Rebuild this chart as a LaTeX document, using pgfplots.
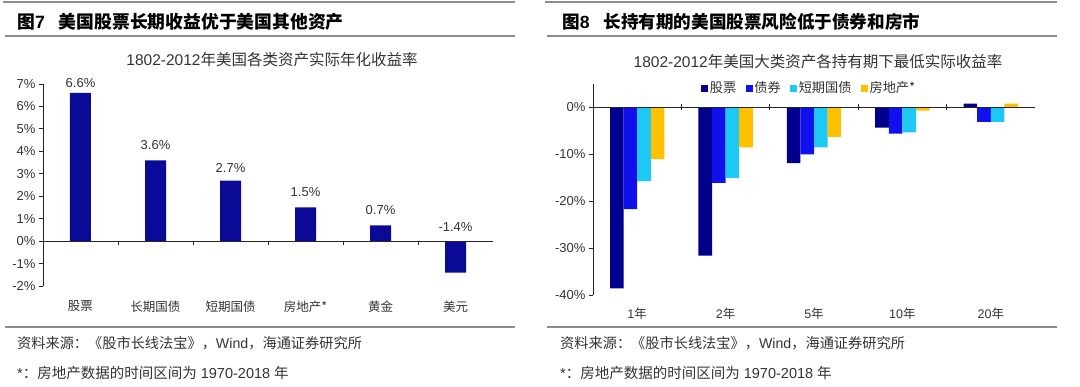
\documentclass[border=0pt]{standalone}
\usepackage{fontspec}
\setmainfont{Liberation Sans}
\newfontfamily\cjk{Noto Sans CJK SC}
\usepackage{pgfplots}
\pgfplotsset{compat=1.18}
\definecolor{navy}{HTML}{0A0A96}
\definecolor{stock}{HTML}{00008C}
\definecolor{bond}{HTML}{1010EB}
\definecolor{bill}{HTML}{1EC8F5}
\definecolor{house}{HTML}{FFC000}
\definecolor{rulec}{HTML}{8C8C8C}
\definecolor{txt}{HTML}{333333}

\pgfplotsset{
  common/.style={
    scale only axis,
    axis lines*=left,
    x axis line style={draw=none},
    axis line style={black!85, line width=0.9pt},
    xtick style={draw=none},
    ytick style={black!85, line width=0.9pt},
    tick align=outside,
    major tick length=4pt,
    ytick pos=left,
    /pgf/number format/assume math mode=true,
    yticklabel={\pgfmathprintnumber{\tick}\%},
    y tick label style={font=\fontsize{13}{15}\selectfont, text=txt},
    x tick label style={font=\cjk\fontsize{12.5}{14}\selectfont, text=txt},
    clip=false,
  }
}

\begin{document}
\begin{tikzpicture}
\useasboundingbox (0pt,0pt) rectangle (1080pt,386pt);
% rules
\foreach \xo in {0,542}{
  \draw[rulec, line width=1.2pt] (3pt+\xo pt,384pt) -- (515pt+\xo pt,384pt);
  \draw[rulec, line width=1.2pt] (5pt+\xo pt,350pt) -- (515pt+\xo pt,350pt);
  \draw[rulec, line width=1.2pt] (5pt+\xo pt,59pt) -- (515pt+\xo pt,59pt);
}
% panel titles
\node[anchor=west, inner sep=0pt] at (17pt,364pt) {{\cjk\bfseries\fontsize{17.8}{20}\selectfont 图}{\bfseries\fontsize{17.8}{20}\selectfont 7}\hspace{14pt}{\cjk\bfseries\fontsize{17.8}{20}\selectfont 美国股票长期收益优于美国其他资产}};
\node[anchor=west, inner sep=0pt] at (562pt,364pt) {{\cjk\bfseries\fontsize{17.6}{20}\selectfont 图}{\bfseries\fontsize{17.6}{20}\selectfont 8}\hspace{14pt}{\cjk\bfseries\fontsize{17.6}{20}\selectfont 长持有期的美国股票风险低于债券和房市}};
% chart titles
\node[text=txt, font=\fontsize{15.5}{18}\selectfont] at (272pt,326pt) {1802-2012{\cjk 年美国各类资产实际年化收益率}};
\node[text=txt, font=\fontsize{15.5}{18}\selectfont] at (818pt,324pt) {1802-2012{\cjk 年美国大类资产各持有期下最低实际收益率}};
% sources
\foreach \xo in {17,560}{
  \node[anchor=west, inner sep=0pt, text=txt, font=\fontsize{14.2}{16}\selectfont] at (\xo pt,43pt) {{\cjk 资料来源：《股市长线法宝》，}Wind{\cjk ，海通证券研究所}};
  \node[anchor=west, inner sep=0pt, text=txt, font=\fontsize{14.5}{16}\selectfont] at (\xo pt,13pt) {*{\cjk ：房地产数据的时间区间为} 1970-2018 {\cjk 年}};
}

% left chart
\begin{axis}[common,
  at={(43pt,100pt)}, anchor=south west, width=450pt, height=202pt,
  xmin=-0.5, xmax=5.5, ymin=-2, ymax=7,
  xtick={0,...,5},
  xticklabels={股票,长期国债,短期国债,房地产*,黄金,美元},
  x tick label style={yshift=-7pt},
  ytick={-2,-1,...,7},
]
\addplot[ybar, bar width=21pt, fill=navy, draw=none] coordinates {(0,6.6) (1,3.6) (2,2.7) (3,1.5) (4,0.7) (5,-1.4)};
\addplot[only marks, mark=none, nodes near coords, point meta=explicit symbolic,
  nodes near coords align=center,
  every node near coord/.append style={anchor=center, text=txt, font=\fontsize{13}{15}\selectfont}]
  coordinates {(0,7.04)[6.6\%] (1,4.28)[3.6\%] (2,3.27)[2.7\%] (3,2.18)[1.5\%] (4,1.38)[0.7\%] (5,0.64)[-1.4\%]};
\draw[black!85, line width=0.9pt] (axis cs:-0.5,0) -- (axis cs:5.5,0);
\pgfplotsinvokeforeach{0.5,1.5,2.5,3.5,4.5}{\draw[black!85, line width=0.9pt] (axis cs:#1,0) -- ++(0pt,-4pt);}
\end{axis}

% right chart
\begin{axis}[common,
  at={(593pt,91pt)}, anchor=south west, width=442pt, height=211pt,
  xmin=-0.5, xmax=4.5, ymin=-40, ymax=5,
  ybar=0pt, bar width=13.6pt,
  xtick={0,...,4},
  xticklabels={1{\cjk 年},2{\cjk 年},5{\cjk 年},10{\cjk 年},20{\cjk 年}},
  x tick label style={yshift=-5pt, font=\fontsize{12.5}{14}\selectfont},
  ytick={-40,-30,...,0},
  legend columns=4,
  legend style={draw=none, fill=none, at={(0.489,0.981)}, anchor=center,
    font=\cjk\fontsize{13.2}{15}\selectfont, text=txt,
    /tikz/every even column/.append style={column sep=8pt},
    nodes={inner xsep=1.5pt}},
  legend image code/.code={\fill[#1] (0pt,-3.5pt) rectangle (7pt,3.5pt);},
]
\addplot[fill=stock, draw=none] coordinates {(0,-38.6) (1,-31.6) (2,-11.9) (3,-4.3) (4,0.8)};
\addplot[fill=bond, draw=none] coordinates {(0,-21.7) (1,-16.1) (2,-10.0) (3,-5.6) (4,-3.1)};
\addplot[fill=bill, draw=none] coordinates {(0,-15.7) (1,-15.1) (2,-8.5) (3,-5.3) (4,-3.1)};
\addplot[fill=house, draw=none] coordinates {(0,-11.0) (1,-8.5) (2,-6.3) (3,-0.7) (4,0.8)};
\legend{股票,债券,短期国债,房地产*}
\draw[black!85, line width=0.9pt] (axis cs:-0.5,0) -- (axis cs:4.5,0);
\pgfplotsinvokeforeach{0.5,1.5,2.5,3.5}{\draw[black!85, line width=0.9pt] (axis cs:#1,0) ++(0pt,3pt) -- ++(0pt,-6pt);}
\end{axis}
\end{tikzpicture}
\end{document}
